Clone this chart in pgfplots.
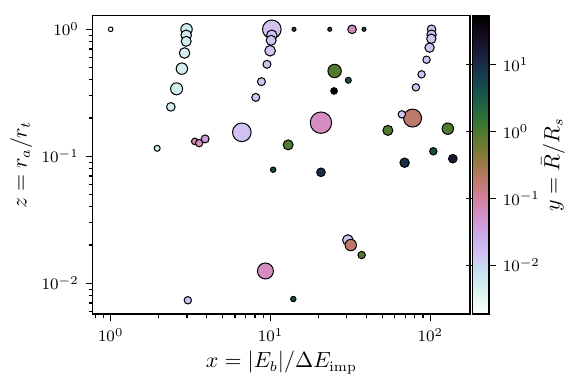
\documentclass[border=0pt]{standalone}
\usepackage{pgfplots}
\usepackage{pgfplotstable}
\pgfplotsset{compat=1.18}
\pgfplotsset{colormap={chr}{
rgb=(1,1,1) rgb=(0.908,0.972,0.948) rgb=(0.824,0.932,0.936) rgb=(0.771,0.872,0.948)
rgb=(0.818,0.762,0.954) rgb=(0.780,0.702,0.929) rgb=(0.814,0.614,0.854) rgb=(0.833,0.542,0.730)
rgb=(0.815,0.495,0.575) rgb=(0.745,0.476,0.417) rgb=(0.628,0.475,0.286) rgb=(0.480,0.480,0.206)
rgb=(0.329,0.476,0.184) rgb=(0.203,0.451,0.209) rgb=(0.120,0.399,0.257) rgb=(0.085,0.325,0.298)
rgb=(0.086,0.238,0.306) rgb=(0.100,0.153,0.267) rgb=(0.102,0.083,0.188) rgb=(0.070,0.032,0.089)
rgb=(0,0,0)}}
\pgfplotstableread{
x z c r
1.0 1.0 -3 1.15
2.985 1.0 -2.29 2.85
2.97 0.897 -2.29 2.65
2.97 0.804 -2.29 2.5
2.90 0.651 -2.29 2.65
2.79 0.49 -2.29 2.85
2.585 0.34 -2.29 3.0
2.38 0.245 -2.29 2.15
1.955 0.1156 -2.29 1.5
3.36 0.131 -1.12 1.65
3.58 0.127 -1.2 1.85
3.90 0.137 -1.4 2.0
10.2 1.0 -1.84 4.65
10.2 0.897 -1.84 2.65
10.1 0.819 -1.84 2.5
9.95 0.678 -1.84 2.65
9.51 0.53 -1.84 2.0
8.78 0.387 -1.84 2.0
8.09 0.291 -1.84 2.0
6.62 0.1545 -1.84 4.65
14.04 1.0 0.71 1.0
23.5 1.0 0.71 1.0
32.4 1.0 -1.17 2.15
38.5 1.0 0.71 1.0
25.2 0.47 -0.03 3.35
30.7 0.397 0.66 1.5
25.0 0.327 1.8 1.65
20.7 0.184 -1.2 5.35
12.9 0.123 -0.03 2.5
10.4 0.0784 0.71 1.35
20.7 0.0748 1.0 2.15
101.9 1.0 -1.84 2.15
101.9 0.907 -1.84 2.35
101.5 0.843 -1.84 2.35
99 0.717 -1.84 2.35
94.8 0.576 -1.84 1.85
88.2 0.442 -1.84 1.85
81.3 0.349 -1.84 1.85
77.5 0.2 -0.72 4.5
66.4 0.214 -1.84 1.85
54.3 0.160 -0.03 2.5
128.8 0.165 -0.03 2.85
104.5 0.1095 0.66 1.85
69.1 0.089 1.0 2.35
138.4 0.0958 1.24 2.15
30.5 0.0219 -1.84 2.65
31.8 0.020 -0.72 2.85
37.2 0.0167 -0.03 1.85
13.9 0.00752 0.71 1.35
9.3 0.0125 -1.2 4.0
3.04 0.00735 -1.84 1.85
}\pts
\begin{document}
\begin{tikzpicture}
\begin{axis}[
  xmode=log, ymode=log,
  scale only axis, width=188.75pt, height=149.3pt,
  xmin=0.772, xmax=177.8, ymin=0.0057, ymax=1.28,
  tick align=outside, tick pos=left,
  major tick length=3.5pt, minor tick length=2pt,
  axis line style={line width=0.8pt},
  every tick/.style={black, line width=0.6pt},
  tick label style={font=\fontsize{8.5}{10}\selectfont},
  label style={font=\fontsize{10.5}{12}\selectfont},
  xlabel={$x = |E_b|/\Delta E_{\mathrm{imp}}$},
  ylabel={$z = r_a/r_t$},
  xlabel shift=-2pt, ylabel shift=-2pt,
  colormap name=chr,
  point meta min=-2.735, point meta max=1.735,
  colorbar,
  colorbar shift/.style={xshift=1.2pt},
  colorbar style={
    at={(parent axis.north east)}, anchor=north west,
    scale only axis, width=8.1pt, height=149.3pt,
    ytick={-2,-1,0,1},
    yticklabels={$10^{-2}$,$10^{-1}$,$10^{0}$,$10^{1}$},
    tick align=outside, major tick length=3.5pt,
    axis line style={line width=0.8pt},
    every tick/.style={black, line width=0.6pt},
    tick label style={font=\fontsize{8.5}{10}\selectfont},
    label style={font=\fontsize{10.5}{12}\selectfont},
    ylabel={$y = \bar{R}/R_s$},
    ylabel shift=-6pt,
  },
]
\addplot[scatter, only marks, mark=*, scatter src=explicit,
  scatter/use mapped color={draw=black, fill=mapped color},
  visualization depends on={\thisrow{r} \as \prad},
  scatter/@pre marker code/.append style={/tikz/mark size=\prad},
  mark options={line width=0.5pt}]
  table[x=x, y=z, meta=c] {\pts};
\end{axis}
\pgfresetboundingbox
\path[use as bounding box] (-46.35pt,-35.35pt) rectangle (241.15pt,157.15pt);
\end{tikzpicture}
\end{document}
